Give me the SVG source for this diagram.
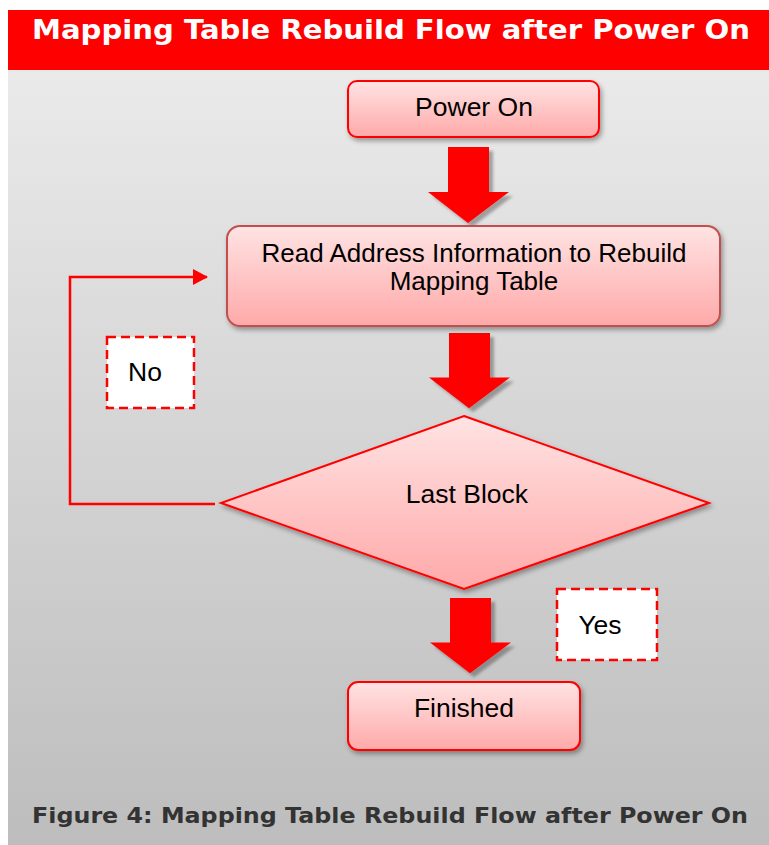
<svg xmlns="http://www.w3.org/2000/svg" width="769" height="845" viewBox="0 0 769 845">
<defs>
<linearGradient id="bg" x1="0" y1="0" x2="0" y2="1">
<stop offset="0" stop-color="#eaeaea"/><stop offset="1" stop-color="#bdbdbd"/>
</linearGradient>
<linearGradient id="nodeFill" x1="0" y1="0" x2="0" y2="1">
<stop offset="0" stop-color="#ffe3e3"/><stop offset="1" stop-color="#ffa9a9"/>
</linearGradient>
<filter id="shadow" x="-10%" y="-10%" width="130%" height="140%">
<feDropShadow dx="2" dy="3" stdDeviation="2.5" flood-color="#000" flood-opacity="0.35"/>
</filter>
<filter id="ashadow" x="-20%" y="-20%" width="150%" height="150%">
<feDropShadow dx="4" dy="4" stdDeviation="1.5" flood-color="#000" flood-opacity="0.3"/>
</filter>
<marker id="ah" markerWidth="16" markerHeight="16" refX="14" refY="8" orient="auto" markerUnits="userSpaceOnUse">
<path d="M0,0 L15,8 L0,16 Z" fill="#ff0000"/>
</marker>
<path id="bigArrow" d="M-20,0 H21 V45 H41 L0,76 L-40,45 H-20 Z"/>
</defs>
<style>
.node { fill: url(#nodeFill); stroke: #ff0000; stroke-width: 2; filter: url(#shadow); }
.node2 { fill: url(#nodeFill); stroke: #c0504d; stroke-width: 2; filter: url(#shadow); }
.label { font-family: "Liberation Sans", Arial, sans-serif; font-size: 26.5px; fill: #000; text-anchor: middle; }
.tag { fill: #ffffff; stroke: #ff0000; stroke-width: 2.5; stroke-dasharray: 9 5; }
.conn { fill: none; stroke: #ff0000; stroke-width: 2.5; }
.flow { fill: #ff0000; filter: url(#ashadow); }
.head { font-family: "DejaVu Sans", Verdana, sans-serif; font-weight: bold; text-anchor: middle; }
</style>
<rect x="0" y="0" width="769" height="845" fill="#ffffff"/>
<rect x="8" y="70" width="761" height="775" fill="url(#bg)"/>
<rect x="8" y="10" width="761" height="60" fill="#ff0000"/>
<text class="head" x="391" y="39" font-size="27" fill="#ffffff" textLength="718" lengthAdjust="spacingAndGlyphs">Mapping Table Rebuild Flow after Power On</text>
<text class="head" x="390" y="823" font-size="22" fill="#333333" textLength="716" lengthAdjust="spacingAndGlyphs">Figure 4: Mapping Table Rebuild Flow after Power On</text>

<g id="connectors">
<use href="#bigArrow" class="flow" transform="translate(468,147)"/>
<use href="#bigArrow" class="flow" transform="translate(469,333) scale(1,0.99)"/>
<use href="#bigArrow" class="flow" transform="translate(470,598) scale(1,0.99)"/>
<polyline class="conn" points="215,504 70,504 70,277 207,277" marker-end="url(#ah)"/>
</g>

<g id="power-on">
<rect class="node" x="348" y="81" width="251" height="56" rx="9"/>
<text class="label" x="474" y="116">Power On</text>
</g>
<g id="read-address">
<rect class="node2" x="227" y="226" width="493" height="100" rx="13"/>
<text class="label" style="font-size:26px"><tspan x="474" y="262">Read Address Information to Rebuild</tspan><tspan x="474" y="290">Mapping Table</tspan></text>
</g>
<g id="last-block">
<polygon class="node" points="464,416 709,503 464,589 221,503"/>
<text class="label" x="467" y="503">Last Block</text>
</g>
<g id="finished">
<rect class="node" x="348" y="682" width="232" height="68" rx="10"/>
<text class="label" x="464" y="717">Finished</text>
</g>
<g id="no-label">
<rect class="tag" x="107" y="337" width="87" height="71"/>
<text class="label" x="145" y="381">No</text>
</g>
<g id="yes-label">
<rect class="tag" x="557" y="589" width="100" height="71"/>
<text class="label" x="600" y="634">Yes</text>
</g>
</svg>
